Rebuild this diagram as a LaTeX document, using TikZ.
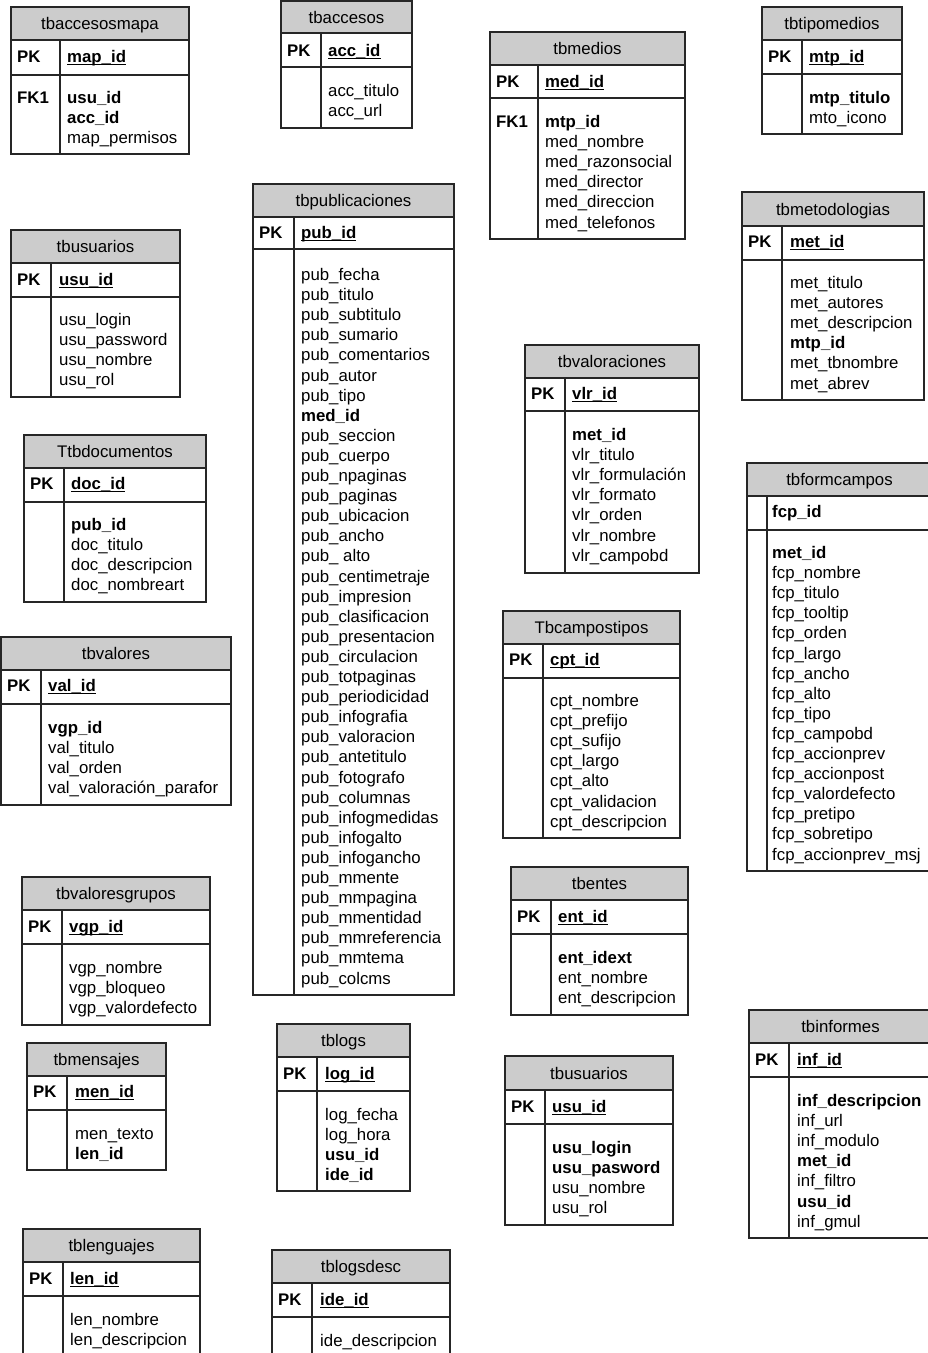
\documentclass[tikz,border=0pt]{standalone}
\usepackage{fontspec}
\setmainfont{Liberation Sans}
\definecolor{hdrgray}{RGB}{204,204,204}
\catcode`\_=12
\newcommand\ulk[1]{\setbox0\hbox{\textbf{#1}}\rlap{\rule[-2.9pt]{\wd0}{1.1pt}}\box0}
\tikzset{
  tline/.style={draw=black!85, line width=1.2pt},
  hdrbg/.style={fill=hdrgray},
  fld/.style={anchor=base west, inner sep=0pt, font=\fontsize{16.8}{20}\selectfont},
  ttl/.style={anchor=base, inner sep=0pt, font=\fontsize{16.8}{20}\selectfont},
}
% #1 name, #2 title, #3 xl, #4 xr, #5 ytop, #6 yhdr, #7 ykey, #8 ybottom, #9 xdiv
\newcommand\dbtable[9]{%
  \fill[hdrbg] (#3,#5) rectangle (#4,#6);
  \node[ttl] (#1) at ({(#3+#4)/2},{(#5+#6)/2+6}) {#2};
  \draw[tline] (#3,#5) rectangle (#4,#8);
  \draw[tline] (#3,#6) -- (#4,#6);
  \draw[tline] (#3,#7) -- (#4,#7);
  \draw[tline] (#9,#6) -- (#9,#8);
}
% #1 name, #2 x label, #3 x text, #4 y baseline, #5 label, #6 key text
\newcommand\keyrow[6]{%
  \node[fld] (#1-pk) at (#2,#4) {\textbf{#5}};
  \node[fld] (#1-key) at (#3,#4) {\ulk{#6}};
}
% #1 name, #2 x, #3 y first baseline, #4 list
\newcommand\fields[4]{%
  \foreach \t [count=\i] in {#4} {\node[fld] (#1-f\i) at (#2,{#3+1+(\i-1)*20.1}) {\t};}
}
\begin{document}
\begin{tikzpicture}[x=1pt,y=-1pt]
\useasboundingbox (0,0) rectangle (928,1353);
\clip (0,0) rectangle (928,1353);
\fill[white] (0,0) rectangle (928,1353);

% 1 tbaccesosmapa
\dbtable{accmapa}{tbaccesosmapa}{11}{189}{7}{40}{75}{154}{60}
\keyrow{accmapa}{17}{67}{62}{PK}{map_id}
\node[fld] (accmapa-fk) at (17,103) {\textbf{FK1}};
\fields{accmapa}{67}{102}{\textbf{usu_id},\textbf{acc_id},map_permisos}

% 2 tbaccesos
\dbtable{acc}{tbaccesos}{281}{412}{1}{33}{67}{128}{321}
\keyrow{acc}{287}{328}{56}{PK}{acc_id}
\fields{acc}{328}{95.5}{acc_titulo,acc_url}

% 3 tbmedios
\dbtable{med}{tbmedios}{490}{685}{32}{65}{98}{239}{538}
\keyrow{med}{496}{545}{87}{PK}{med_id}
\node[fld] (med-fk) at (496,127.5) {\textbf{FK1}};
\fields{med}{545}{126.5}{\textbf{mtp_id},med_nombre,med_razonsocial,med_director,med_direccion,med_telefonos}

% 4 tbtipomedios
\dbtable{mtp}{tbtipomedios}{762}{902}{7}{40}{74}{134}{802}
\keyrow{mtp}{768}{809}{62.5}{PK}{mtp_id}
\fields{mtp}{809}{102.5}{\textbf{mtp_titulo},mto_icono}

% 5 tbpublicaciones
\dbtable{pub}{tbpublicaciones}{253}{454}{184}{217}{249}{995}{294}
\keyrow{pub}{259}{301}{238.5}{PK}{pub_id}
\fields{pub}{301}{279.5}{pub_fecha,pub_titulo,pub_subtitulo,pub_sumario,pub_comentarios,pub_autor,pub_tipo,\textbf{med_id},pub_seccion,pub_cuerpo,pub_npaginas,pub_paginas,pub_ubicacion,pub_ancho,pub_ alto,pub_centimetraje,pub_impresion,pub_clasificacion,pub_presentacion,pub_circulacion,pub_totpaginas,pub_periodicidad,pub_infografia,pub_valoracion,pub_antetitulo,pub_fotografo,pub_columnas,pub_infogmedidas,pub_infogalto,pub_infogancho,pub_mmente,pub_mmpagina,pub_mmentidad,pub_mmreferencia,pub_mmtema,pub_colcms}

% 6 tbusuarios
\dbtable{usu}{tbusuarios}{11}{180}{230}{263}{297}{397}{51}
\keyrow{usu}{17}{59}{285.5}{PK}{usu_id}
\fields{usu}{59}{324.5}{usu_login,usu_password,usu_nombre,usu_rol}

% 7 tbmetodologias
\dbtable{met}{tbmetodologias}{742}{924}{192}{226}{260}{400}{782}
\keyrow{met}{748}{790}{247.5}{PK}{met_id}
\fields{met}{790}{287.5}{met_titulo,met_autores,met_descripcion,\textbf{mtp_id},met_tbnombre,met_abrev}

% 8 tbvaloraciones
\dbtable{vlr}{tbvaloraciones}{525}{699}{345}{378}{411}{573}{565}
\keyrow{vlr}{531}{572}{399.5}{PK}{vlr_id}
\fields{vlr}{572}{439.5}{\textbf{met_id},vlr_titulo,vlr_formulación,vlr_formato,vlr_orden,vlr_nombre,vlr_campobd}

% 9 Ttbdocumentos
\dbtable{doc}{Ttbdocumentos}{24}{206}{435}{468}{502}{602}{64}
\keyrow{doc}{30}{71}{489.5}{PK}{doc_id}
\fields{doc}{71}{529.5}{\textbf{pub_id},doc_titulo,doc_descripcion,doc_nombreart}

% 10 tbformcampos
\dbtable{fcp}{tbformcampos}{747}{932}{463}{496}{530}{871}{767}
\node[fld] (fcp-key) at (772,517.5) {\textbf{fcp_id}};
\fields{fcp}{772}{557.5}{\textbf{met_id},fcp_nombre,fcp_titulo,fcp_tooltip,fcp_orden,fcp_largo,fcp_ancho,fcp_alto,fcp_tipo,fcp_campobd,fcp_accionprev,fcp_accionpost,fcp_valordefecto,fcp_pretipo,fcp_sobretipo,fcp_accionprev_msj}

% 11 tbvalores
\dbtable{val}{tbvalores}{1}{231}{637}{670}{704}{805}{41}
\keyrow{val}{7}{48}{691.5}{PK}{val_id}
\fields{val}{48}{732.5}{\textbf{vgp_id},val_titulo,val_orden,val_valoración_parafor}

% 12 Tbcampostipos
\dbtable{cpt}{Tbcampostipos}{503}{680}{611}{644}{678}{838}{543}
\keyrow{cpt}{509}{550}{665.5}{PK}{cpt_id}
\fields{cpt}{550}{705.5}{cpt_nombre,cpt_prefijo,cpt_sufijo,cpt_largo,cpt_alto,cpt_validacion,cpt_descripcion}

% 13 tbentes
\dbtable{ent}{tbentes}{511}{688}{867}{900}{934}{1015}{551}
\keyrow{ent}{517}{558}{922.5}{PK}{ent_id}
\fields{ent}{558}{962.5}{\textbf{ent_idext},ent_nombre,ent_descripcion}

% 14 tbvaloresgrupos
\dbtable{vgp}{tbvaloresgrupos}{22}{210}{877}{910}{944}{1025}{62}
\keyrow{vgp}{28}{69}{932.5}{PK}{vgp_id}
\fields{vgp}{69}{972.5}{vgp_nombre,vgp_bloqueo,vgp_valordefecto}

% 15 tbmensajes
\dbtable{men}{tbmensajes}{27}{166}{1043}{1076}{1110}{1170}{67}
\keyrow{men}{33}{75}{1097.5}{PK}{men_id}
\fields{men}{75}{1138.5}{men_texto,\textbf{len_id}}

% 16 tblogs
\dbtable{log}{tblogs}{277}{410}{1024}{1057}{1091}{1191}{317}
\keyrow{log}{283}{325}{1079.5}{PK}{log_id}
\fields{log}{325}{1119.5}{log_fecha,log_hora,\textbf{usu_id},\textbf{ide_id}}

% 17 tbusuarios (2)
\dbtable{usub}{tbusuarios}{505}{673}{1056}{1090}{1124}{1225}{545}
\keyrow{usub}{511}{552}{1112.5}{PK}{usu_id}
\fields{usub}{552}{1152.5}{\textbf{usu_login},\textbf{usu_pasword},usu_nombre,usu_rol}

% 18 tbinformes
\dbtable{inf}{tbinformes}{749}{932}{1010}{1043}{1077}{1238}{789}
\keyrow{inf}{755}{797}{1065.5}{PK}{inf_id}
\fields{inf}{797}{1105.5}{\textbf{inf_descripcion},inf_url,inf_modulo,\textbf{met_id},inf_filtro,\textbf{usu_id},inf_gmul}

% 19 tblenguajes
\dbtable{len}{tblenguajes}{23}{200}{1229}{1262}{1296}{1362}{63}
\keyrow{len}{29}{70}{1284.5}{PK}{len_id}
\fields{len}{70}{1324.5}{len_nombre,len_descripcion}

% 20 tblogsdesc
\dbtable{ide}{tblogsdesc}{272}{450}{1250}{1283}{1317}{1362}{312}
\keyrow{ide}{278}{320}{1305.5}{PK}{ide_id}
\fields{ide}{320}{1345.5}{ide_descripcion}
\end{tikzpicture}
\end{document}
